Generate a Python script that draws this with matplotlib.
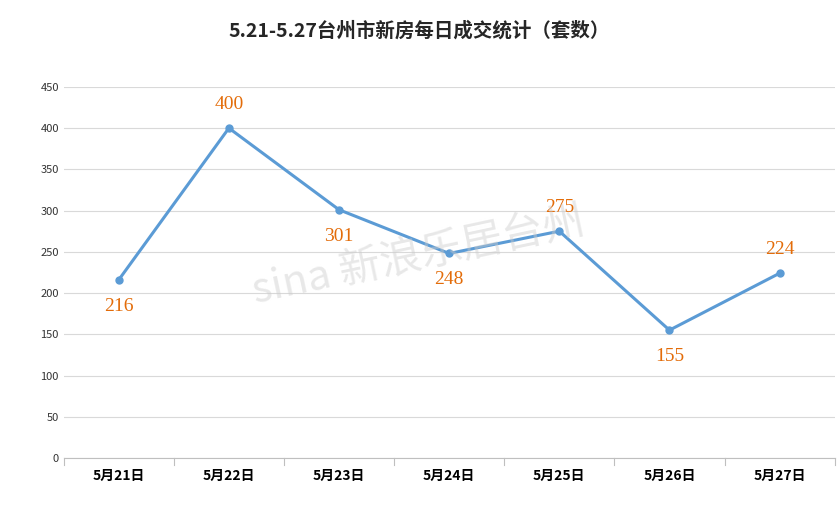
import matplotlib
matplotlib.use("Agg")
import matplotlib.pyplot as plt

plt.rcParams['font.family'] = ['Noto Sans CJK SC', 'DejaVu Sans']

days = ["5月21日", "5月22日", "5月23日", "5月24日", "5月25日", "5月26日", "5月27日"]
sales = [216, 400, 301, 248, 275, 155, 224]
label_above = [False, True, False, False, True, False, True]

fig = plt.figure(figsize=(8.38, 5.14), dpi=100)
ax = fig.add_axes([0.076, 0.109, 0.92, 0.722])

x = range(len(days))
ax.plot(x, sales, color="#5B9BD5", lw=2.2, marker="o", ms=5, zorder=3)
for i, v in enumerate(sales):
    off = 17 if label_above[i] else -19
    ax.annotate(str(v), (i, v), xytext=(0, off), textcoords="offset points",
                ha="center", va="center", color="#E36C09", fontsize=14,
                family=["Liberation Serif"])

ax.set_xlim(-0.5, len(days) - 0.5)
ax.set_ylim(0, 450)
ax.set_yticks(range(0, 451, 50))
ax.set_xticks(list(x))
ax.set_xticklabels(days, fontsize=10, fontweight="bold")
ax.tick_params(axis="y", labelsize=8, length=0, colors="#333333")
ax.tick_params(axis="x", length=0, pad=8)
ax.grid(axis="y", color="#D9D9D9", lw=0.8)
ax.set_axisbelow(True)
for s in ["top", "right", "left"]:
    ax.spines[s].set_visible(False)
ax.spines["bottom"].set_color("#BFBFBF")
# category separators on x axis
for b in range(len(days) + 1):
    ax.plot([b - 0.5, b - 0.5], [0, -8], color="#BFBFBF", lw=0.8, clip_on=False)

fig.text(0.5, 0.94, "5.21-5.27台州市新房每日成交统计（套数）", ha="center", va="center",
         fontsize=14, fontweight="bold", color="#262626")
fig.text(0.5, 0.5, "sina 新浪乐居台州", ha="center", va="center", fontsize=30,
         color="#cccccc", alpha=0.45, rotation=12)

fig.savefig("out.png", dpi=100)
